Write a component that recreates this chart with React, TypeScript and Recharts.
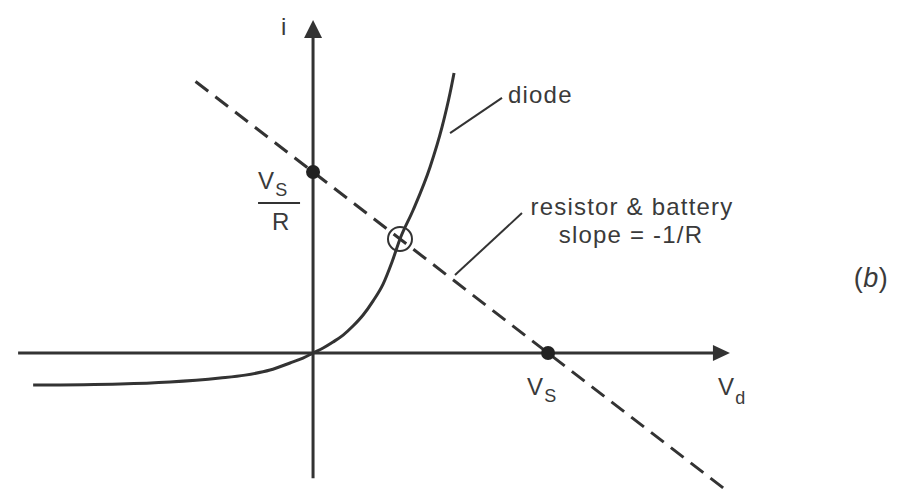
import { ComposedChart, XAxis, YAxis, Scatter } from 'recharts'

// diode I–V curve, in units where Vs = 1 and Vs/R = 1
const diodeV = [-1.191, -0.821, -0.609, -0.396, -0.289, -0.183, -0.098, -0.043, 0, 0.043, 0.085, 0.128, 0.17, 0.213, 0.255, 0.298, 0.336, 0.37, 0.426, 0.498, 0.549, 0.583, 0.6]
const diodeI = [-0.177, -0.171, -0.16, -0.138, -0.122, -0.094, -0.055, -0.028, 0, 0.028, 0.061, 0.099, 0.149, 0.21, 0.287, 0.381, 0.503, 0.63, 0.79, 1.028, 1.249, 1.436, 1.547]

// resistor & battery load line, slope -1/R
const loadV = [-0.5, 1.75]
const loadI = [1.5, -0.75]

// axes extents and arrow tips
const xAxisV = [-1.255, 1.702]
const yAxisI = [-0.691, 1.74]
const xTip = 1.774
const yTip = 1.84

// leader lines for the two callouts
const diodeLeaderV = [0.583, 0.804]
const diodeLeaderI = [1.215, 1.409]
const loadLeaderV = [0.604, 0.889]
const loadLeaderI = [0.431, 0.773]

const vs = 1
const vsOverR = 1
const operating = { x: 0.37, y: 0.63 }

const zip = (xs: number[], ys: number[]) => xs.map((x, i) => ({ x, y: ys[i] }))

const INK = '#333'
const TEXT = '#3a3a3a'
const FONT = '"Liberation Sans", Arial, sans-serif'

const txt = { fill: TEXT, fontFamily: FONT, fontSize: 24, letterSpacing: 1.2 }
const noMark = () => <g />

// a polyline drawn through Scatter's own line renderer
function Path(props: { data: { x: number; y: number }[]; width?: number; dash?: string; curve?: any }) {
  return (
    <Scatter
      data={props.data}
      isAnimationActive={false}
      shape={noMark}
      line={{ stroke: INK, strokeWidth: props.width ?? 3, strokeDasharray: props.dash, fill: 'none' }}
      lineJointType={props.curve ?? 'linear'}
    />
  )
}

export default function App() {
  return (
    <div style={{ position: 'absolute', left: 0, top: 0, width: 898, height: 491, background: '#fff' }}>
      <ComposedChart width={898} height={491} margin={{ top: 0, right: 0, bottom: 0, left: 0 }}>
        <XAxis type="number" dataKey="x" domain={[-1.332, 2.489]} hide allowDataOverflow />
        <YAxis type="number" dataKey="y" domain={[-0.762, 1.95]} hide allowDataOverflow />

        {/* axes */}
        {Path({ data: zip(xAxisV, [0, 0]) })}
        {Path({ data: zip([0, 0], yAxisI) })}
        <Scatter
          data={[{ x: xTip, y: 0 }]}
          isAnimationActive={false}
          shape={(p: any) => (
            <polygon points={`${p.cx},${p.cy} ${p.cx - 17},${p.cy - 8} ${p.cx - 17},${p.cy + 8}`} fill={INK} />
          )}
        />
        <Scatter
          data={[{ x: 0, y: yTip }]}
          isAnimationActive={false}
          shape={(p: any) => (
            <polygon points={`${p.cx},${p.cy} ${p.cx - 9},${p.cy + 18} ${p.cx + 9},${p.cy + 18}`} fill={INK} />
          )}
        />

        {/* load line and diode curve */}
        {Path({ data: zip(loadV, loadI), dash: '16 9' })}
        {Path({ data: zip(diodeV, diodeI), curve: 'monotoneX' })}

        {/* callout leaders */}
        {Path({ data: zip(diodeLeaderV, diodeLeaderI), width: 2 })}
        {Path({ data: zip(loadLeaderV, loadLeaderI), width: 2 })}

        {/* intercepts and operating point */}
        <Scatter
          data={[{ x: 0, y: vsOverR }, { x: vs, y: 0 }]}
          isAnimationActive={false}
          shape={(p: any) => <circle cx={p.cx} cy={p.cy} r={7} fill="#222" />}
        />
        <Scatter
          data={[operating]}
          isAnimationActive={false}
          shape={(p: any) => <circle cx={p.cx} cy={p.cy} r={12} fill="none" stroke={INK} strokeWidth={2} />}
        />

        {/* labels */}
        <Scatter
          data={[{ x: 0, y: yTip }]}
          isAnimationActive={false}
          shape={(p: any) => (
            <text x={p.cx - 32} y={p.cy + 15} {...txt}>i</text>
          )}
        />
        <Scatter
          data={[{ x: 0, y: vsOverR }]}
          isAnimationActive={false}
          shape={(p: any) => (
            <g>
              <text x={p.cx - 55} y={p.cy + 17} {...txt}>
                V<tspan fontSize={18} dy={7}>S</tspan>
              </text>
              <line x1={p.cx - 55} x2={p.cx - 13} y1={p.cy + 31} y2={p.cy + 31} stroke={INK} strokeWidth={2} />
              <text x={p.cx - 41} y={p.cy + 58} {...txt}>R</text>
            </g>
          )}
        />
        <Scatter
          data={[{ x: vs, y: 0 }]}
          isAnimationActive={false}
          shape={(p: any) => (
            <text x={p.cx - 21} y={p.cy + 42} {...txt}>
              V<tspan fontSize={18} dy={7}>S</tspan>
            </text>
          )}
        />
        <Scatter
          data={[{ x: xTip, y: 0 }]}
          isAnimationActive={false}
          shape={(p: any) => (
            <text x={p.cx - 12} y={p.cy + 42} {...txt}>
              V<tspan fontSize={18} dy={9}>d</tspan>
            </text>
          )}
        />
        <Scatter
          data={[{ x: diodeLeaderV[1], y: diodeLeaderI[1] }]}
          isAnimationActive={false}
          shape={(p: any) => (
            <text x={p.cx + 6} y={p.cy + 5} {...txt}>diode</text>
          )}
        />
        <Scatter
          data={[{ x: loadLeaderV[1], y: loadLeaderI[1] }]}
          isAnimationActive={false}
          shape={(p: any) => (
            <g>
              <text x={p.cx + 110} y={p.cy + 2} textAnchor="middle" {...txt}>resistor &amp; battery</text>
              <text x={p.cx + 109} y={p.cy + 30} textAnchor="middle" {...txt}>slope = -1/R</text>
            </g>
          )}
        />
        <Scatter
          data={[{ x: 2.374, y: 0.365 }]}
          isAnimationActive={false}
          shape={(p: any) => (
            <text x={p.cx} y={p.cy} textAnchor="middle" {...txt} fontSize={27} letterSpacing={0.5}>
              (<tspan fontStyle="italic">b</tspan>)
            </text>
          )}
        />
      </ComposedChart>
    </div>
  )
}
